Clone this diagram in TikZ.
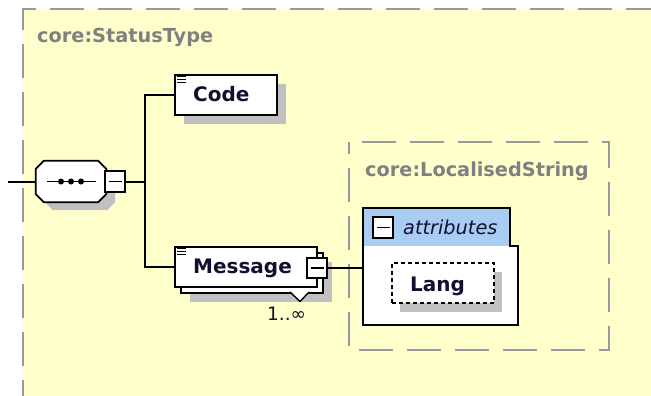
\documentclass[tikz,border=0pt]{standalone}
\usepackage{fontspec}
\setmainfont{DejaVu Sans}
\usetikzlibrary{shadows}

\definecolor{panel}{RGB}{255,255,204}
\definecolor{frame}{RGB}{153,153,153}
\definecolor{titlegray}{RGB}{128,128,128}
\definecolor{shadowgray}{RGB}{192,192,192}
\definecolor{hdrblue}{RGB}{169,204,242}
\definecolor{ink}{RGB}{16,16,48}

\tikzset{
  box/.style={draw=black, fill=white, line width=1.8pt, inner sep=0pt},
  conn/.style={draw=black, line width=2pt},
  minusbox/.style={draw=black, fill=white, line width=1.6pt, inner sep=0pt,
    minimum width=20pt, minimum height=20pt,
    path picture={\draw[line width=1.6pt]
      ([xshift=3.5pt]path picture bounding box.west) --
      ([xshift=-3.5pt]path picture bounding box.east);}},
  namelabel/.style={anchor=base west, inner sep=0pt, text=ink,
    font=\fontsize{20}{24}\selectfont\bfseries},
  typelabel/.style={anchor=base west, inner sep=0pt, text=titlegray,
    font=\fontsize{19.3}{24}\selectfont\bfseries},
  hardshadow/.style={drop shadow={shadow xshift=9pt, shadow yshift=-9pt,
    fill=shadowgray, opacity=1}},
  typeframe/.style={draw=frame, line width=2pt, dash pattern=on 34pt off 14pt},
}

% outline of the sequence compositor (corners cut by 8), moved by (#1,#2)
\newcommand\seqoutline[2]{([shift={(8+#1,#2)}]seq.north west)
  -- ([shift={(-8+#1,#2)}]seq.north east)
  -- ([shift={(#1,8+#2)}]seq.north east) -- ([shift={(#1,-8+#2)}]seq.south east)
  -- ([shift={(-8+#1,#2)}]seq.south east) -- ([shift={(8+#1,#2)}]seq.south west)
  -- ([shift={(#1,-8+#2)}]seq.south west) -- ([shift={(#1,8+#2)}]seq.north west) -- cycle}

\begin{document}
\begin{tikzpicture}[x=1pt,y=-1pt]
\useasboundingbox (0,0) rectangle (651,396);
\fill[white] (0,0) rectangle (651,396);

% complex type panel core:StatusType
\fill[panel] (23,9) rectangle (651,396);
\draw[typeframe, dash phase=18pt] (23,396) -- (23,9) -- (651,9);
\node[typelabel] (title) at (37,43) {core:StatusType};

% complex type core:LocalisedString
\node[inner sep=0pt, minimum width=260pt, minimum height=208pt] (lstype) at (479,246) {};
\draw[typeframe, dash phase=35pt] (lstype.north west) -- (lstype.north east)
  -- (lstype.south east) -- (lstype.south west) -- cycle;
\node[typelabel] (lstitle) at (365,176) {core:LocalisedString};

% sequence compositor
\node[inner sep=0pt, minimum width=70pt, minimum height=41pt] (seq) at (71,181.5) {};
\fill[shadowgray] \seqoutline{9}{8};
\draw[fill=white, line width=1.8pt] \seqoutline{0}{0};
\draw[line width=1.6pt] ([xshift=-24pt]seq.center) -- ([xshift=25pt]seq.center);
\foreach \dx in {-10,0,10}
  \fill ([xshift=\dx pt]seq.center) circle (3pt);
\node[minusbox, minimum height=21pt] (seqtoggle) at (115,181.5) {};

% element Code
\node[box, hardshadow, minimum width=102pt, minimum height=40pt] (code) at (226,95) {};
\node[namelabel] (codelabel) at (193,102) {Code};

% element Message (1..unbounded)
\node[box, minimum width=142pt, minimum height=40pt,
  drop shadow={shadow xshift=15pt, shadow yshift=-15pt, fill=shadowgray, opacity=1},
  general shadow={shadow xshift=6pt, shadow yshift=-6pt, fill=white, draw=black}]
  (msg) at (246,267) {};
\node[namelabel] (msglabel) at (193,273) {Message};
\fill[white] (290,291.3) -- (310,291.3) -- (300,302) -- cycle;
\draw[line width=1.4pt] (290,292) -- (300,301.5) -- (309,292);
\node[anchor=base west, inner sep=0pt, text=ink, font=\fontsize{18.5}{22}\selectfont]
  (mult) at (267,320) {1..∞};
\node[minusbox] (msgtoggle) at (317,268) {};

% text-content icons
\foreach \n in {code,msg}
  \foreach \dy in {2.5,5.5,8.5}
    \draw[line width=1.2pt] ([shift={(3,\dy)}]\n.north west) -- ++(9,0);

% attribute group
\node[inner sep=0pt, minimum width=155pt, minimum height=117pt] (attrs) at (440.5,266.5) {};
\fill[hdrblue] (attrs.north west) rectangle ([xshift=-8pt,yshift=-38pt]attrs.north east);
\fill[white] ([yshift=-38pt]attrs.north west) rectangle (attrs.south east);
\draw[line width=1.8pt] (attrs.north west) -- ([xshift=-8pt]attrs.north east)
  -- ([xshift=-8pt,yshift=-38pt]attrs.north east) -- ([yshift=-38pt]attrs.north east)
  -- (attrs.south east) -- (attrs.south west) -- cycle;
\node[minusbox, minimum height=21pt] (attrtoggle) at (383,227.5) {};
\node[anchor=base west, inner sep=0pt, text=ink,
  font=\fontsize{19.3}{24}\selectfont\itshape] (attrlabel) at (403,234) {attributes};

% optional attribute Lang
\node[draw=black, fill=white, line width=1.6pt, dash pattern=on 4pt off 3pt,
  minimum width=102pt, minimum height=40pt, inner sep=0pt,
  drop shadow={shadow xshift=8pt, shadow yshift=-9pt, fill=shadowgray, opacity=1}]
  (lang) at (443,283) {};
\node[namelabel] (langlabel) at (410,291) {Lang};

% connectors
\coordinate (start) at (8,181.5);
\coordinate (fork) at (145,181.5);
\draw[conn] (start) -- (seq.west);
\draw[conn] (seqtoggle.east) -- (fork);
\draw[conn] (fork) |- (code.west);
\draw[conn] (fork) |- (msg.west);
\draw[conn] (msgtoggle.east) -- (msgtoggle.east -| attrs.west);
\end{tikzpicture}
\end{document}
